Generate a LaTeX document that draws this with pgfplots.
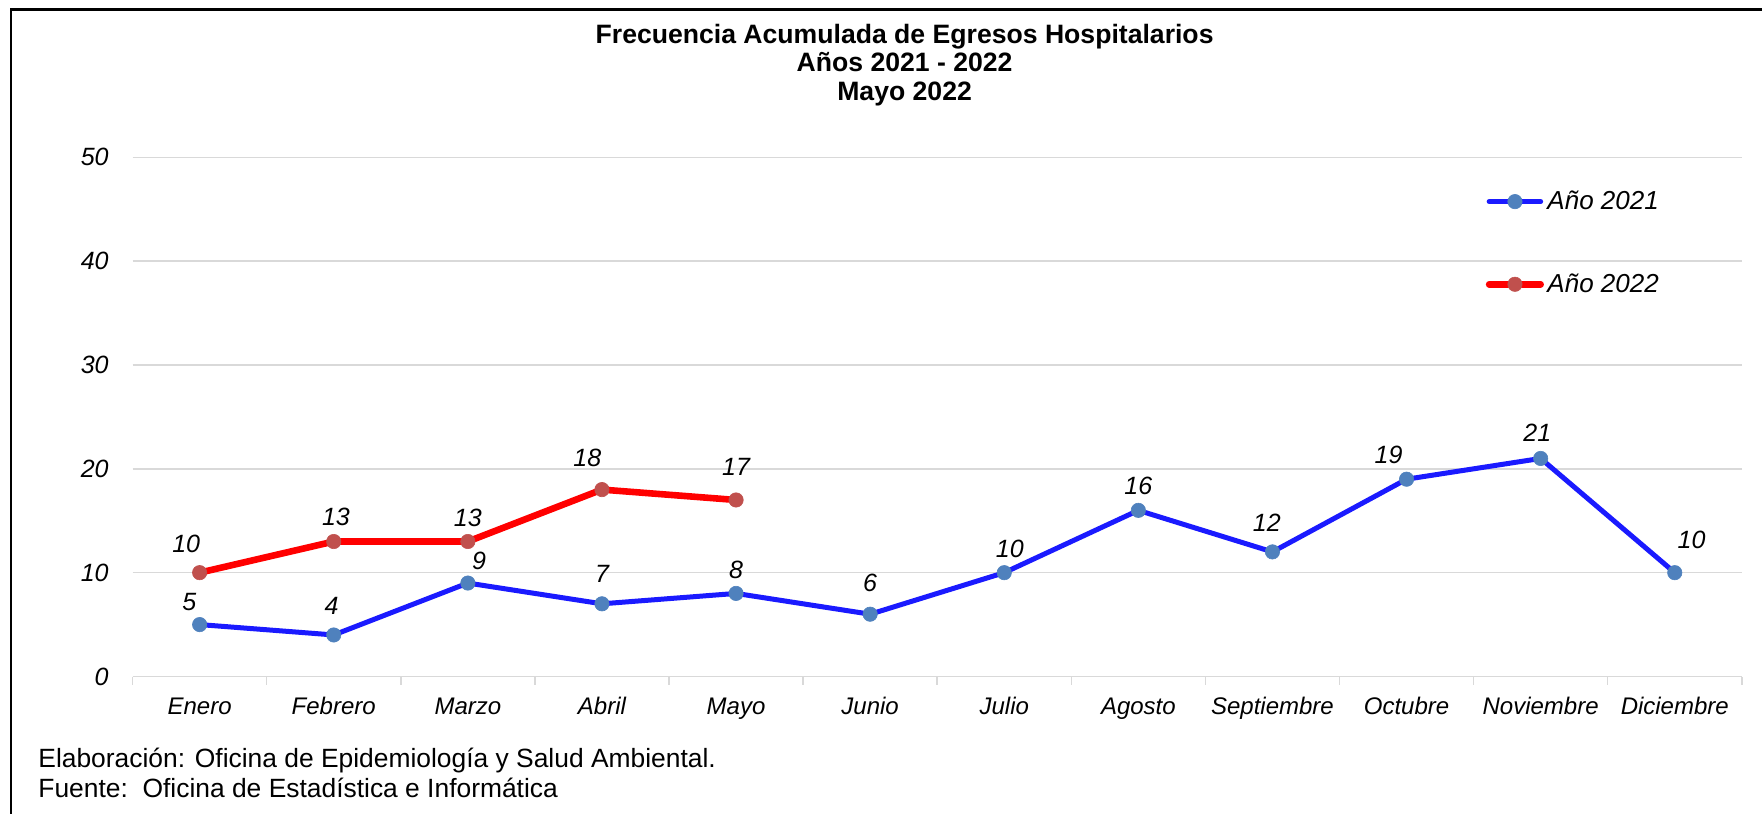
\documentclass[border=0pt]{standalone}
\usepackage{fontspec}
\setmainfont{Liberation Sans}
\usepackage{pgfplots}
\usepackage{pgfplotstable}
\pgfplotsset{compat=1.18}
\definecolor{linblue}{RGB}{26,26,255}
\definecolor{linred}{RGB}{255,0,0}
\definecolor{mkblue}{RGB}{79,129,189}
\definecolor{mkred}{RGB}{192,80,77}
\definecolor{gridgray}{RGB}{217,217,217}

\pgfplotstableread{
x y dx dy
0 5 -5.1 11.2
1 4 -1.1 14.6
2 9 5.6 11.2
3 7 0 15.2
4 8 0 11.8
5 6 0 15.7
6 10 2.8 11.8
7 16 0 12.4
8 12 -2.8 14.6
9 19 -9 12.4
10 21 -1.7 12.9
11 10 8.4 16.3
}\dataA

\pgfplotstableread{
x y dx dy
0 10 -6.7 14.6
1 13 1.1 12.4
2 13 0 11.8
3 18 -7.3 15.7
4 17 0 16.3
}\dataB

\begin{document}
\begin{tikzpicture}
\useasboundingbox (0,0) rectangle (881bp,407bp);
\draw[line width=1.2bp, line cap=rect] (5.5bp,-2bp) -- (5.5bp,402.3bp) -- (885bp,402.3bp);
\node[anchor=base, font=\fontsize{13.3bp}{15bp}\selectfont\bfseries] at (452.3bp,385.4bp) {Frecuencia Acumulada de Egresos Hospitalarios};
\node[anchor=base, font=\fontsize{13.3bp}{15bp}\selectfont\bfseries] at (452.3bp,371.3bp) {Años 2021 - 2022};
\node[anchor=base, font=\fontsize{13.3bp}{15bp}\selectfont\bfseries] at (452.3bp,356.7bp) {Mayo 2022};
\node[anchor=base west, inner sep=0pt, font=\fontsize{13.2bp}{15bp}\selectfont] at (19bp,23.45bp) {Elaboración: Oficina de Epidemiología y Salud Ambiental.};
\node[anchor=base west, inner sep=0pt, font=\fontsize{13.2bp}{15bp}\selectfont] at (19bp,8.25bp) {Fuente:\ \ Oficina de Estadística e Informática};
\begin{axis}[
  at={(66.3bp,68.75bp)}, anchor=south west,
  scale only axis, width=804.6bp, height=259.6bp,
  clip=false,
  xmin=-0.5, xmax=11.5, ymin=0, ymax=50,
  xtick={0,...,11},
  xticklabels={Enero,Febrero,Marzo,Abril,Mayo,Junio,Julio,Agosto,Septiembre,Octubre,Noviembre,Diciembre},
  minor xtick={-0.5,0.5,...,11.5},
  ytick={0,10,...,50},
  major tick length=0pt, minor tick length=4bp,
  tick align=outside,
  axis x line*=bottom, axis y line*=left,
  x axis line style={draw=gridgray, line width=0.75bp, -},
  y axis line style={draw=none, -},
  every minor tick/.style={draw=gridgray, line width=0.75bp},
  ymajorgrids, major grid style={draw=gridgray, line width=0.75bp},
  /pgf/number format/assume math mode=true,
  xticklabel style={anchor=base, inner sep=0pt, yshift=-18.9bp, font=\fontsize{12bp}{14bp}\selectfont\itshape},
  yticklabel style={anchor=east, inner sep=0pt, xshift=-11.8bp, font=\fontsize{12.5bp}{14bp}\selectfont\itshape},
  legend style={at={(0.8407,0.943)}, anchor=north west, draw=none, fill=none,
    font=\fontsize{13bp}{15bp}\selectfont\itshape, row sep=27bp, inner sep=0pt,
    nodes={inner sep=1.75bp, text=black}},
  legend cell align=left,
  legend image code/.code={\draw[mark repeat=2, mark phase=2, #1] plot coordinates {(0bp,0bp) (12.9bp,0bp) (25.75bp,0bp)};},
  nodes near coords,
  point meta=y,
  visualization depends on={\thisrow{dx}\as\dx},
  visualization depends on={\thisrow{dy}\as\dy},
  nodes near coords style={anchor=center, inner sep=0pt, xshift=\dx bp, yshift=\dy bp, text=black, font=\fontsize{12.5bp}{14bp}\selectfont\itshape},
]
\addplot[linblue, line width=2.5bp, line cap=round, line join=round, mark=*, mark size=3.6bp,
  mark options={solid, draw=mkblue, fill=mkblue, line width=0.3bp}] table[x=x,y=y] {\dataA};
\addlegendentry{Año 2021}
\addplot[linred, line width=3.3bp, line cap=round, line join=round, mark=*, mark size=3.6bp,
  mark options={solid, draw=mkred, fill=mkred, line width=0.3bp}] table[x=x,y=y] {\dataB};
\addlegendentry{Año 2022}
\end{axis}
\end{tikzpicture}
\end{document}
